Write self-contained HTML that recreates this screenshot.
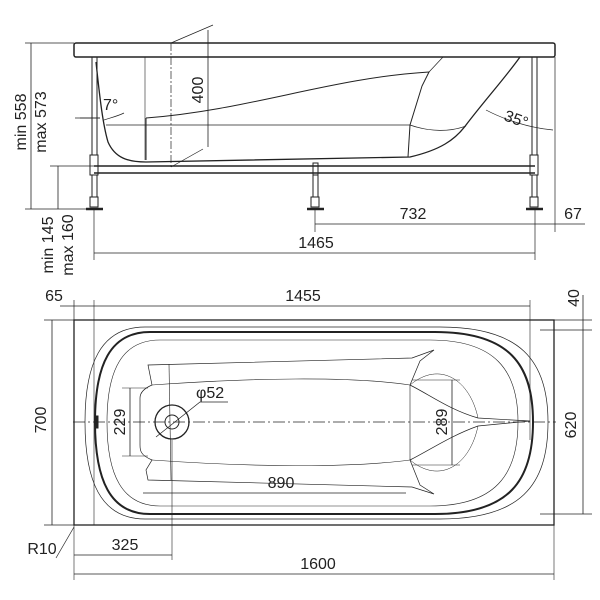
<!DOCTYPE html>
<html><head><style>html,body{margin:0;padding:0;background:#fff}svg{display:block}</style></head><body>
<svg width="600" height="600" viewBox="0 0 600 600" xmlns="http://www.w3.org/2000/svg" font-family="Liberation Sans, sans-serif" font-size="16" fill="none" stroke="#222" stroke-width="1">
<!-- SIDE VIEW -->
<rect x="74" y="43" width="481" height="14" rx="2" stroke-width="1.5"/>
<!-- legs -->
<g stroke-width="1">
<rect x="92" y="57" width="5" height="98"/><rect x="90" y="155" width="8" height="20"/><rect x="92" y="175" width="5" height="22"/><rect x="90" y="197" width="8" height="10"/><line x1="86" y1="209" x2="103" y2="209" stroke-width="2.5"/>
<rect x="532" y="57" width="5" height="98"/><rect x="530" y="155" width="8" height="20"/><rect x="532" y="175" width="5" height="22"/><rect x="530" y="197" width="8" height="10"/><line x1="526" y1="209" x2="543" y2="209" stroke-width="2.5"/>
<rect x="313" y="163" width="5" height="12"/><rect x="313" y="175" width="5" height="22"/><rect x="311" y="197" width="8" height="10"/><line x1="307" y1="209" x2="324" y2="209" stroke-width="2.5"/>
</g>
<line x1="94" y1="166" x2="535" y2="166" stroke-width="1.5"/>
<line x1="94" y1="173" x2="535" y2="173" stroke-width="1.5"/>
<!-- tub -->
<path d="M96 62 C100 100,103 125,108 142 C115 158,128 162,146 162 L410 157 C440 150,455 140,466 125 C485 100,505 78,520 57" stroke-width="1.3"/>
<path d="M146 118 C250 110,330 78,429 72 L422 86 L410 125 L408 157" stroke-width="1"/>
<path d="M146 118 L146 160" />
<line x1="106" y1="125" x2="410" y2="125" stroke-width="0.7"/>
<path d="M410 125 C430 132,450 132,466 126" stroke-width="0.7"/>
<path d="M429 72 L443 57" stroke-width="0.7"/>
<line x1="145" y1="57" x2="145" y2="160" stroke-width="0.6"/>
<!-- 400 -->
<line x1="171" y1="43" x2="171" y2="167" stroke-dasharray="8 2 2 2" stroke-width="0.7"/>
<line x1="171" y1="43" x2="213" y2="25" stroke-width="0.7"/>
<line x1="171" y1="167" x2="203" y2="149" stroke-width="0.7"/>
<line x1="208" y1="30" x2="208" y2="147" stroke-width="0.8"/>
<text x="0" y="0" fill="#222" stroke="none" transform="translate(203,90) rotate(-90)" text-anchor="middle">400</text>
<!-- 7 deg -->
<line x1="75" y1="118" x2="100" y2="118" stroke-width="0.7"/>
<path d="M100 118 L80 118" stroke-width="0.7"/>
<path d="M104 120 C110 118,118 116,124 113" stroke-width="0.7"/>
<text x="103" y="110" fill="#222" stroke="none">7°</text>
<!-- 35 deg -->
<path d="M486 110 C505 120,530 128,553 130" stroke-width="0.7"/>
<text fill="#222" stroke="none" transform="translate(503,120) rotate(20)">35°</text>
<!-- left dims -->
<line x1="25" y1="43" x2="74" y2="43" stroke-width="0.7"/>
<line x1="25" y1="209" x2="88" y2="209" stroke-width="0.7"/>
<line x1="50" y1="166" x2="94" y2="166" stroke-width="0.7"/>
<line x1="31" y1="43" x2="31" y2="209" stroke-width="0.8"/>
<line x1="58" y1="166" x2="58" y2="209" stroke-width="0.8"/>
<text fill="#222" stroke="none" transform="translate(26,122) rotate(-90)" text-anchor="middle">min 558</text>
<text fill="#222" stroke="none" transform="translate(46,122) rotate(-90)" text-anchor="middle">max 573</text>
<text fill="#222" stroke="none" transform="translate(53,245) rotate(-90)" text-anchor="middle">min 145</text>
<text fill="#222" stroke="none" transform="translate(73,245) rotate(-90)" text-anchor="middle">max 160</text>
<!-- bottom dims side -->
<line x1="315" y1="210" x2="315" y2="232" stroke-width="0.7"/>
<line x1="94" y1="210" x2="94" y2="260" stroke-width="0.7"/>
<line x1="535" y1="210" x2="535" y2="260" stroke-width="0.7"/>
<line x1="555" y1="57" x2="555" y2="232" stroke-width="0.7"/>
<line x1="315" y1="224" x2="585" y2="224" stroke-width="0.8"/>
<line x1="94" y1="253" x2="535" y2="253" stroke-width="0.8"/>
<text x="413" y="219" fill="#222" stroke="none" text-anchor="middle">732</text>
<text x="573" y="219" fill="#222" stroke="none" text-anchor="middle">67</text>
<text x="316" y="248" fill="#222" stroke="none" text-anchor="middle">1465</text>

<!-- TOP VIEW -->
<rect x="74" y="320" width="480" height="205" stroke-width="1.3"/>
<!-- outer oval -->
<path d="M145 327 L440 327 C520 327,548 360,548 422 C548 486,520 519,440 519 L145 519 C100 519,85 480,85 422 C85 365,100 327,145 327 Z" stroke-width="0.7"/>
<path d="M150 332 L435 332 C510 332,533 365,533 422 C533 480,510 514,435 514 L150 514 C110 514,95 480,95 422 C95 365,110 332,150 332 Z" stroke-width="2"/>
<path d="M160 340 L430 340 C495 340,518 370,518 422 C518 475,495 506,430 506 L160 506 C122 506,107 475,107 422 C107 370,122 340,160 340 Z" stroke-width="0.6"/>
<!-- inner basin -->
<path d="M148 365 L412 358 L434 350 L420 361 L410 385 C430 395,450 410,478 418 L530 421 L478 426 C450 436,430 450,410 460 L420 485 L434 494 L412 487 L148 480 L146 470 L152 460 C140 455,140 450,140 445 L140 398 C140 392,145 388,152 385 Z" stroke-width="0.7"/>
<line x1="169" y1="364" x2="171" y2="480" stroke-width="0.6"/>
<line x1="410" y1="385" x2="410" y2="460" stroke-width="0.6"/>
<path d="M152 385 C250 378,350 376,410 385" stroke-width="0.6"/>
<path d="M152 460 C250 467,350 468,410 460" stroke-width="0.6"/>
<path d="M410 385 C440 360,470 380,478 418" stroke-width="0.5"/>
<path d="M410 460 C440 485,470 465,478 426" stroke-width="0.5"/>
<!-- overflow -->
<rect x="95" y="416" width="3" height="12" fill="#222"/>
<!-- drain -->
<circle cx="172" cy="422" r="17" stroke-width="1.3"/>
<circle cx="172" cy="422" r="7"/>
<!-- centerline -->
<line x1="73" y1="422" x2="556" y2="422" stroke-dasharray="12 3 2 3" stroke-width="0.7"/>
<!-- 1455/65 -->
<line x1="74" y1="300" x2="74" y2="320" stroke-width="0.7"/>
<line x1="94" y1="300" x2="94" y2="525" stroke-width="0.6"/>
<line x1="530" y1="300" x2="530" y2="440" stroke-width="0.6"/>
<line x1="60" y1="306" x2="530" y2="306" stroke-width="0.8"/>
<text x="303" y="301" fill="#222" stroke="none" text-anchor="middle">1455</text>
<text x="54" y="301" fill="#222" stroke="none" text-anchor="middle">65</text>
<!-- 40 / 620 -->
<line x1="540" y1="320" x2="592" y2="320" stroke-width="0.7"/>
<line x1="540" y1="330" x2="592" y2="330" stroke-width="0.7"/>
<line x1="540" y1="514" x2="592" y2="514" stroke-width="0.7"/>
<line x1="583" y1="295" x2="583" y2="514" stroke-width="0.8"/>
<text fill="#222" stroke="none" transform="translate(579,298) rotate(-90)" text-anchor="middle">40</text>
<text fill="#222" stroke="none" transform="translate(576,425) rotate(-90)" text-anchor="middle">620</text>
<!-- 700 -->
<line x1="44" y1="320" x2="74" y2="320" stroke-width="0.7"/>
<line x1="44" y1="525" x2="74" y2="525" stroke-width="0.7"/>
<line x1="52" y1="320" x2="52" y2="525" stroke-width="0.8"/>
<text fill="#222" stroke="none" transform="translate(46,420) rotate(-90)" text-anchor="middle">700</text>
<!-- 229 -->
<line x1="122" y1="388" x2="148" y2="388" stroke-width="0.6"/>
<line x1="122" y1="456" x2="148" y2="456" stroke-width="0.6"/>
<line x1="130" y1="388" x2="130" y2="456" stroke-width="0.8"/>
<text fill="#222" stroke="none" transform="translate(125,422) rotate(-90)" text-anchor="middle">229</text>
<!-- 289 -->
<line x1="412" y1="380" x2="460" y2="380" stroke-width="0.6"/>
<line x1="412" y1="465" x2="460" y2="465" stroke-width="0.6"/>
<line x1="452" y1="380" x2="452" y2="465" stroke-width="0.8"/>
<text fill="#222" stroke="none" transform="translate(447,422) rotate(-90)" text-anchor="middle">289</text>
<!-- 890 -->
<line x1="143" y1="493" x2="406" y2="493" stroke-width="0.8"/>
<text x="281" y="488" fill="#222" stroke="none" text-anchor="middle">890</text>
<!-- phi52 -->
<path d="M156 437 L200 402 L228 402" stroke-width="0.7"/>
<text x="196" y="398" fill="#222" stroke="none">φ52</text>
<!-- 325 -->
<line x1="172" y1="440" x2="172" y2="560" stroke-width="0.6"/>
<line x1="74" y1="525" x2="74" y2="580" stroke-width="0.6"/>
<line x1="554" y1="525" x2="554" y2="580" stroke-width="0.6"/>
<line x1="74" y1="555" x2="172" y2="555" stroke-width="0.8"/>
<text x="125" y="550" fill="#222" stroke="none" text-anchor="middle">325</text>
<line x1="74" y1="574" x2="554" y2="574" stroke-width="0.8"/>
<text x="318" y="569" fill="#222" stroke="none" text-anchor="middle">1600</text>
<!-- R10 -->
<line x1="56" y1="558" x2="74" y2="527" stroke-width="0.7"/>
<text x="42" y="554" fill="#222" stroke="none" text-anchor="middle">R10</text>
</svg>
</body></html>
